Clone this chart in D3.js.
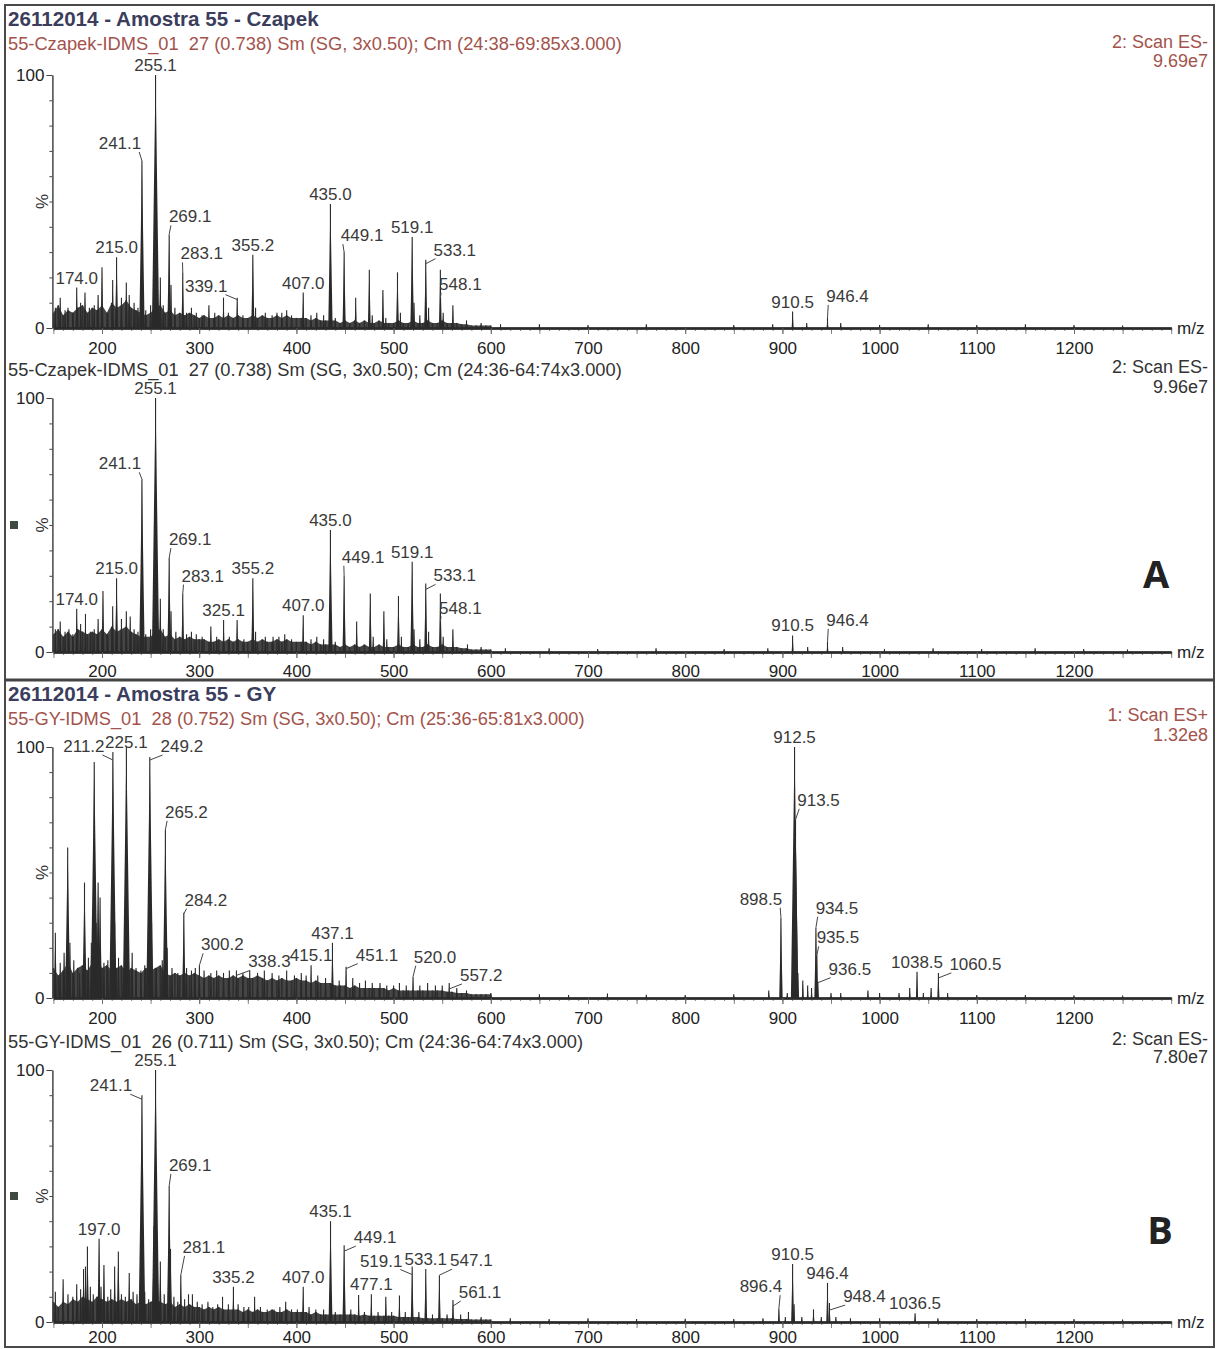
<!DOCTYPE html>
<html>
<head>
<meta charset="utf-8">
<script src="https://cdn.jsdelivr.net/npm/d3@7"></script>
<style>
  body { margin: 0; background: #fff; }
  svg { display: block; }
  text { font-family: "Liberation Sans", Arial, Helvetica, sans-serif; }
</style>
</head>
<body>
<svg id="chart" width="1223" height="1349"></svg>
<script>
// ---------------------------------------------------------------
// Spectra data: intensities in % of base peak, m/z in Th
// ---------------------------------------------------------------
const mzTicks = [200, 300, 400, 500, 600, 700, 800, 900, 1000, 1100, 1200];
const blockTitles = ["26112014 - Amostra 55 - Czapek", "26112014 - Amostra 55 - GY"];
const blockLetters = ["A", "B"];
const traceNames = [
  "55-Czapek-IDMS_01  27 (0.738) Sm (SG, 3x0.50); Cm (24:38-69:85x3.000)",
  "55-Czapek-IDMS_01  27 (0.738) Sm (SG, 3x0.50); Cm (24:36-64:74x3.000)",
  "55-GY-IDMS_01  28 (0.752) Sm (SG, 3x0.50); Cm (25:36-65:81x3.000)",
  "55-GY-IDMS_01  26 (0.711) Sm (SG, 3x0.50); Cm (24:36-64:74x3.000)"
];
const scanModes = ["2: Scan ES-", "2: Scan ES-", "1: Scan ES+", "2: Scan ES-"];
const basePeakIntensities = ["9.69e7", "9.96e7", "1.32e8", "7.80e7"];

// low-mass chemical-noise envelope, one value every 5 m/z from 150 to 600
const grassStartMz = 150, grassStepMz = 5;
const czapekNeg1Grass = [6,9,5,7,6,8,9,6,8,7, 9,6,10,8,9,11,8,7,6,5, 6,8,9,6,7,5,6,5,6,5,
  4,5,4,4,5,4,5,4,5,4, 4,5,4,5,4,4,5,4,5,4, 4,4,4,3,4,3,3,3,3,2,
  3,2,3,2,3,2,2,3,2,2, 2,3,2,2,3,2,2,3,2,2, 3,2,2,2,1.5,1.5,1,1,1,1, 1];
const czapekNeg2Grass = [7,9,6,8,6,9,8,7,8,7, 9,7,10,8,9,10,8,7,6,6, 6,8,9,6,7,5,6,5,6,5,
  5,5,4,4,5,4,5,4,5,4, 4,5,4,5,4,4,5,4,5,4, 4,4,4,3,4,3,3,3,3,2,
  3,2,3,2,3,2,2,3,2,2, 2,3,2,2,3,2,2,3,2,2, 3,2,2,2,1.5,1.5,1,1,1,1, 1];
const gyPosGrass = [12,9,11,14,10,12,13,11,14,16, 12,13,11,12,13,10,12,11,10,12, 11,12,13,10,9,10,9,10,9,10,
  9,8,9,8,9,8,8,9,8,9, 8,8,9,8,7,8,7,8,7,7, 8,7,7,6,7,6,6,6,5,5,
  5,4,5,4,4,4,4,4,4,3, 4,3,3,3,3,3,3,3,3,3, 3,2.5,2.5,2,2,2,1.5,1.5,1.5,1.5, 1.5];
const gyNegGrass = [8,6,8,7,9,8,10,9,8,10, 9,8,9,8,9,8,9,7,8,7, 8,9,8,7,8,6,7,6,7,6,
  6,5,6,5,6,5,5,5,5,4, 5,4,5,4,4,5,4,4,5,4, 4,4,4,3,4,3,3,3,3,3,
  3,3,3,2.5,3,2.5,2.5,2.5,2.5,2.5, 2.5,2,2,2,2,2,1.5,1.5,1.5,1.5, 1.5,1.5,1.5,1.2,1.2,1.2,1,1,1,1, 1];

// centroided peaks [m/z, % intensity]
const czapekNeg1Peaks = [[152,8],[157,12],[162,7],[165,8],[170,6],[174.0,16],[178,10],[182.5,14],[187,8],[192,9],[196,13],[200,24],[206,6],[211,19],[215.0,28],[220,12],[225,18],[228,13],[233,10],[237,8],[241.1,66],[245,7],[250,9],[253,12],[255.1,100],[257,20],[260,20],[263,9],[269.1,37],[271,17],[275,8],[283.1,22],[287,6],[292,8],[297,6],[303,5],[310,9],[316,6],[325,12],[330,6],[339.1,12],[345,5],[355.2,29],[358,8],[368,6],[375,5],[380,6],[385,6],[390,7],[395,5],[407.0,14],[415,5],[421,6],[428,5],[435.0,49],[440,4],[449.1,30],[461,12],[475,23],[478,5],[489,15],[492,4],[504,22],[507,6],[519.1,36],[521,10],[527,5],[533.1,27],[536,8],[548.1,23],[551,6],[561,9],[575,3],[590,2],[610,1.5],[650,1.5],[700,1.2],[760,1.5],[850,1.2],[890,1.5],[910.5,6.5],[925,2],[946.4,4],[960,2],[1000,1.2],[1050,1.5],[1100,1.2],[1150,1.5],[1200,1.2],[1250,1]];
const czapekNeg2Peaks = [[152,9],[157,12],[162,8],[166,9],[170,7],[174.0,17],[178,11],[183,15],[188,8],[192,9],[196,13],[201,24],[206,7],[211,18],[215.0,29],[220,13],[225,16],[229,14],[233,9],[237,8],[241.1,68],[245,7],[250,9],[253,13],[255.1,100],[257,22],[260,21],[263,9],[269.1,37],[271,16],[276,8],[283.1,23],[287,7],[292,8],[297,7],[303,6],[312,10],[318,6],[325.1,12.6],[331,6],[339,12.6],[346,5],[355.2,29],[358,8],[368,6],[376,6],[382,6],[388,7],[395,5],[407.0,14.5],[415,5],[421,6],[428,5],[435.0,48],[440,4],[449.1,30],[462,12],[476,23],[479,6],[490,16],[493,5],[505,22],[508,6],[519.1,35.5],[521,9],[527,5],[533.1,27],[536,8],[548.1,23],[551,6],[561,9],[576,3],[590,2],[615,1.5],[660,1.5],[710,1.2],[770,1.5],[840,1.2],[885,1.5],[910.5,6.5],[926,2],[946.4,4],[962,2],[1005,1.2],[1055,1.5],[1105,1.2],[1160,1.5],[1210,1.2],[1255,1]];
const gyPosPeaks = [[152,26],[157,14],[161,18],[164.7,60],[167,22],[171,15],[177,10],[182,46],[186,16],[189,22],[192,94],[194,30],[196,46],[198,40],[202,14],[206,15],[211.2,98],[213,30],[217,16],[222,12],[225.1,100],[227,26],[231,18],[235,12],[240,11],[244,13],[249.2,96],[251,30],[256,12],[262,15],[265.2,67],[267,20],[272,12],[278,10],[284.2,34],[287,12],[292,11],[296,12],[300.2,13],[305,11],[312,10],[318,11],[325,10],[331,11],[338.3,11],[345,10],[352,11],[360,10],[367,11],[375,10],[382,9],[390,11],[398,9],[405,10],[410,9],[415.1,13],[422,9],[430,8],[437.1,22],[444,7],[451.1,12.5],[458,8],[465,6],[471,7],[478,6],[486,6],[493,5],[500,5],[506,6],[513,5],[520.0,8.5],[527,5],[535,6],[543,5],[550,5],[557.2,6],[565,4],[575,3],[600,2],[650,1.5],[680,1.2],[720,1.8],[760,1.3],[800,1.2],[850,1.5],[886,3],[898.5,32],[905,2],[912.5,100],[913.5,71],[916,10],[921,7],[926,5],[930,4],[934.5,28],[935.5,17],[936.5,6.5],[950,2],[960,2],[988,3],[1000,2],[1020,2],[1031,4],[1038.5,10.5],[1045,2],[1053,4],[1060.5,10],[1070,2],[1100,1.2],[1150,1.2],[1200,1],[1250,1]];
const gyNegPeaks = [[152,12],[160,17],[165,11],[170,10],[174,15],[178,13],[181,21],[183,22],[185,30],[188,14],[191,11],[195,10],[197.0,33],[199,14],[202,22.6],[206,10],[209,13],[213,22],[216.8,28],[220,11],[224,10],[228,19.4],[232,12],[236,11],[241.1,90],[244,12],[248,9],[253.5,38],[255.1,100],[257,26],[260,24],[264,11],[269.1,54],[270.5,29],[274,10],[278,8],[281.1,18.7],[285,9],[289,11],[293,11],[298,8],[303,7],[309,8],[314,6],[319,7],[324,10],[330,7],[335.2,14],[340,7],[346,6],[351,6],[357,10],[363,6],[370,5],[377,5],[383,6],[389,8],[395,5],[401,5],[407.0,14],[413,6],[420,5],[428,5],[435.1,40],[440,4],[449.1,30.5],[456,5],[464,10.7],[470,4],[477.1,11],[484,4],[492,10],[498,4],[506,10.5],[512,4],[519.1,22],[526,4],[533.1,21],[540,3],[547.1,18.6],[555,3],[561.1,8.7],[569,3],[577,4],[590,2],[620,1.5],[660,1.2],[700,1.5],[750,1.2],[800,1.3],[850,1.2],[880,1.5],[896.4,5.5],[903,2],[910.5,23],[912,7],[920,2],[932,5],[940,2],[946.4,15.5],[948.4,7.5],[955,2],[970,1.5],[1000,1.5],[1036.5,3.5],[1060,1.5],[1100,1.2],[1150,1.2],[1200,1.2],[1250,1]];

// annotated peaks
const czapekNeg1Labels = ["174.0","215.0","241.1","255.1","269.1","283.1","339.1","355.2","407.0","435.0","449.1","519.1","533.1","548.1","910.5","946.4"];
const czapekNeg2Labels = ["174.0","215.0","241.1","255.1","269.1","283.1","325.1","355.2","407.0","435.0","449.1","519.1","533.1","548.1","910.5","946.4"];
const gyPosLabels = ["211.2","225.1","249.2","265.2","284.2","300.2","338.3","415.1","437.1","451.1","520.0","557.2","898.5","912.5","913.5","934.5","935.5","936.5","1038.5","1060.5"];
const gyNegLabels = ["197.0","241.1","255.1","269.1","281.1","335.2","407.0","435.1","449.1","477.1","519.1","533.1","547.1","561.1","896.4","910.5","946.4","948.4","1036.5"];

// ---------------------------------------------------------------
// Layout (pixels)
// ---------------------------------------------------------------
const W = 1223, H = 1349;
const panelLayout = [
  { y100: 75,   y0: 328,  sub: 50,   mode: 48,   bpi: 67,   accent: true,  marker: false, tickPad: 8 },
  { y100: 398,  y0: 652,  sub: 376,  mode: 373,  bpi: 393,  accent: false, marker: true,  tickPad: 7 },
  { y100: 747,  y0: 998,  sub: 725,  mode: 721,  bpi: 741,  accent: true,  marker: false, tickPad: 8 },
  { y100: 1070, y0: 1322, sub: 1048, mode: 1045, bpi: 1063, accent: false, marker: true,  tickPad: 3 }
];
const blockLayout = [
  { top: 5, bottom: 680, titleY: 26, letterX: 1156, letterY: 588 },
  { top: 680, bottom: 1347, titleY: 701, letterX: 1160, letterY: 1244 }
];
// label offsets [dx, dy] from the default spot above the peak apex
const labelNudges = [
  { "241.1": [-22,-8], "269.1": [21,-8], "283.1": [19,-9], "339.1": [-31,-2], "449.1": [18,-7],
    "533.1": [29,0], "548.1": [20,24], "946.4": [20,-12] },
  { "241.1": [-22,-6], "269.1": [21,-9], "283.1": [20,-8], "449.1": [19,-9],
    "533.1": [29,2], "548.1": [20,24], "946.4": [20,-12] },
  { "211.2": [-29,4], "225.1": [0,5], "249.2": [32,-1], "265.2": [21,-8], "284.2": [22,-3], "300.2": [23,-11],
    "338.3": [33,1], "451.1": [31,-2], "520.0": [22,-10], "557.2": [32,2], "913.5": [23,-10],
    "898.5": [-20,-9], "934.5": [21,-10], "935.5": [21,-8], "936.5": [32,-3], "1060.5": [37,1] },
  { "241.1": [-31,0], "269.1": [21,-11], "281.1": [23,-18], "449.1": [31,2], "519.1": [-31,4],
    "547.1": [32,-5], "561.1": [27,2], "896.4": [-18,-12], "948.4": [35,3] }
];

const panelData = [
  { peaks: czapekNeg1Peaks, grass: czapekNeg1Grass, labels: czapekNeg1Labels },
  { peaks: czapekNeg2Peaks, grass: czapekNeg2Grass, labels: czapekNeg2Labels },
  { peaks: gyPosPeaks,      grass: gyPosGrass,      labels: gyPosLabels },
  { peaks: gyNegPeaks,      grass: gyNegGrass,      labels: gyNegLabels }
];

const accentColor = "#a3534c";
const titleColor = "#3b3d5c";
const inkColor = "#2a2a2a";
const labelColor = "#3a3a3a";
const FONT = "'Liberation Sans', Arial, sans-serif";

const svg = d3.select("#chart");
svg.append("rect").attr("width", W).attr("height", H).attr("fill", "#fff");

// shared m/z scale
const x = d3.scaleLinear().domain([150, 1300]).range([53.4, 1171.2]);

function drawPanel(i) {
  const L = panelLayout[i], D = panelData[i];
  const y = d3.scaleLinear().domain([0, 100]).range([L.y0, L.y100]);
  const g = svg.append("g").attr("class", "panel-" + i);
  const headColor = L.accent ? accentColor : "#333";

  // header
  g.append("text").attr("x", 8).attr("y", L.sub)
    .attr("font-size", 18.3).attr("fill", headColor)
    .attr("xml:space", "preserve").text(traceNames[i]);
  g.append("text").attr("x", 1208).attr("y", L.mode).attr("text-anchor", "end")
    .attr("font-size", 18).attr("fill", headColor).text(scanModes[i]);
  g.append("text").attr("x", 1208).attr("y", L.bpi).attr("text-anchor", "end")
    .attr("font-size", 18).attr("fill", headColor).text(basePeakIntensities[i]);

  // noise envelope
  const grassPts = D.grass.map((v, k) => [grassStartMz + k * grassStepMz, v]);
  g.append("path").datum(grassPts)
    .attr("d", d3.area().x(d => x(d[0])).y0(y(0)).y1(d => y(d[1])))
    .attr("fill", "#454545");
  g.selectAll("line.grass").data(grassPts).join("line").attr("class", "grass")
    .attr("x1", d => x(d[0])).attr("x2", d => x(d[0]))
    .attr("y1", y(0)).attr("y2", d => y(d[1]))
    .attr("stroke", "#2e2e2e").attr("stroke-width", 1.6);

  // peaks as narrow triangles
  g.selectAll("path.peak").data(D.peaks).join("path").attr("class", "peak")
    .attr("d", d => {
      const px = x(d[0]), hw = 0.8 + d[1] / 35;
      return `M${px - hw},${y(0)}L${px},${y(d[1])}L${px + hw},${y(0)}Z`;
    })
    .attr("fill", inkColor);
  g.selectAll("line.peak").data(D.peaks).join("line").attr("class", "peak")
    .attr("x1", d => x(d[0])).attr("x2", d => x(d[0]))
    .attr("y1", y(0)).attr("y2", d => y(d[1]))
    .attr("stroke", inkColor).attr("stroke-width", 1.1);

  // x axis
  const gx = g.append("g").attr("transform", `translate(0,${L.y0})`);
  gx.call(d3.axisBottom(x).tickValues(d3.range(150, 1301, 10)).tickSize(3).tickSizeOuter(0).tickFormat(""));
  gx.append("g").call(d3.axisBottom(x).tickValues(d3.range(150, 1301, 50)).tickSize(6).tickSizeOuter(0).tickFormat(""));
  gx.append("g").call(d3.axisBottom(x).tickValues(mzTicks).tickSize(6).tickPadding(L.tickPad).tickSizeOuter(0).tickFormat(d3.format("d")));
  gx.selectAll(".domain").attr("stroke", inkColor).attr("stroke-width", 2.2);
  gx.selectAll(".tick line").attr("stroke", "#666").attr("stroke-width", 0.8);
  gx.selectAll(".tick text").attr("font-size", 17).attr("fill", "#222").attr("font-family", FONT);
  g.append("text").attr("x", 1177).attr("y", L.y0 + 6).attr("font-size", 17).attr("fill", "#222").text("m/z");

  // y axis
  const gy = g.append("g").attr("transform", `translate(${x(150) - 1},0)`);
  gy.call(d3.axisLeft(y).tickValues(d3.range(10, 100, 10)).tickSize(3).tickSizeOuter(0).tickFormat(""));
  gy.selectAll(".tick line").attr("stroke", "#aaa");
  gy.append("g").call(d3.axisLeft(y).tickValues([0, 100]).tickSize(6).tickPadding(2).tickSizeOuter(0).tickFormat(d3.format("d")));
  gy.selectAll(".domain").attr("stroke", "#444").attr("stroke-width", 1);
  gy.selectAll("g g .tick line").attr("stroke", "#444");
  gy.selectAll(".tick text").attr("font-size", 17).attr("fill", "#222").attr("font-family", FONT);
  const midY = (L.y0 + L.y100) / 2;
  g.append("text").attr("transform", `translate(42,${midY}) rotate(-90)`)
    .attr("text-anchor", "middle").attr("dy", "0.35em").attr("font-size", 17).attr("fill", "#333").text("%");
  if (L.marker) {
    g.append("rect").attr("x", 10).attr("y", midY - 4).attr("width", 8).attr("height", 8).attr("fill", "#3e4a40");
  }

  // peak annotations
  const nudges = labelNudges[i];
  D.labels.forEach(lbl => {
    const mz = +lbl;
    const pk = D.peaks.find(p => Math.abs(p[0] - mz) < 1e-6);
    if (!pk) return;
    const px = x(pk[0]), ty = y(pk[1]);
    const [dx, dy] = nudges[lbl] || [0, 0];
    const cx = px + dx, by = ty - 4 + dy;
    const t = g.append("text").attr("x", cx).attr("y", by).attr("text-anchor", "middle")
      .attr("font-size", 17).attr("fill", labelColor).text(lbl);
    if (Math.abs(dx) > 8) {
      const w = t.node().getComputedTextLength();
      const sx = dx > 0 ? cx - w / 2 + 2 : cx + w / 2 - 2;
      const ey = Math.max(ty, by + 8);
      g.append("line").attr("x1", sx).attr("y1", by + 3).attr("x2", px).attr("y2", ey)
        .attr("stroke", "#444").attr("stroke-width", 1);
    }
  });
}

// block frames, titles and letters
blockLayout.forEach((b, k) => {
  svg.append("rect").attr("x", 5).attr("y", b.top).attr("width", 1209).attr("height", b.bottom - b.top)
    .attr("fill", "none").attr("stroke", "#4a4a4a").attr("stroke-width", 2);
  svg.append("text").attr("x", 8).attr("y", b.titleY).attr("font-size", 20.6).attr("font-weight", "bold")
    .attr("fill", titleColor).text(blockTitles[k]);
  svg.append("text").attr("x", b.letterX).attr("y", b.letterY).attr("text-anchor", "middle")
    .attr("font-size", 38).attr("font-weight", "bold").attr("fill", "#222")
    .style("font-family", "'Open Sans', 'Liberation Sans', sans-serif").text(blockLetters[k]);
});
svg.append("line").attr("x1", 5).attr("x2", 1214).attr("y1", 680).attr("y2", 680)
  .attr("stroke", "#444").attr("stroke-width", 3);

panelLayout.forEach((_, i) => drawPanel(i));
</script>
</body>
</html>
